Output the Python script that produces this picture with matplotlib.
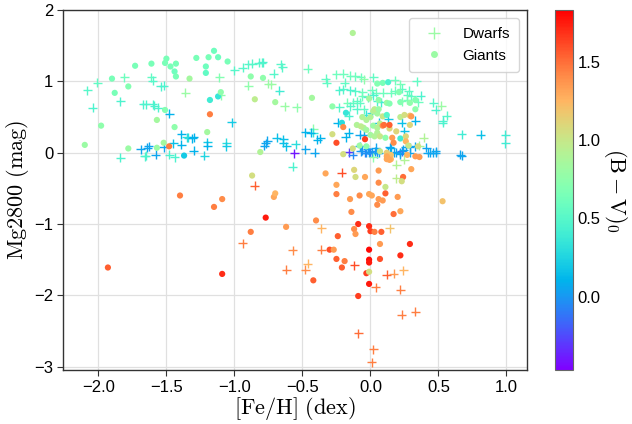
import numpy as np
import matplotlib
matplotlib.use("Agg")
import matplotlib.pyplot as plt
from matplotlib.lines import Line2D

# ---- Data: dwarfs ([Fe/H], Mg2800, (B-V)0) ----
dwarf_feh = [-2.08,-2.01,-2.04,-1.81,-1.84,-1.61,-1.60,-1.54,-1.52,-1.67,-1.65,-1.60,-1.59,-1.56,-1.48,-1.36,-1.11,-1.10,-1.00,-0.94,
             -0.90,-0.87,-0.82,-0.80,-0.79,-0.90,-0.75,-0.73,-0.71,-0.66,-0.65,-0.67,-0.63,-0.54,-0.46,-1.02,-1.39,-1.35,-1.34,-1.31,
             -1.30,-1.39,-1.45,-1.52,-1.63,-1.64,-1.69,-1.48,-1.44,-1.58,-1.66,-1.65,-1.84,-1.30,-1.22,-1.20,-1.20,-1.06,-1.06,-0.78,
             -0.77,-0.76,-0.69,-0.64,-0.64,-0.62,-0.55,-0.48,-0.48,-0.56,-0.57,
             -0.85,-0.94,-0.57,-0.62,-0.48,-0.46,-0.21,-0.36,0.14,-0.36,-0.12,0.12,0.17,0.24,0.04,0.22,0.23,0.33,-0.09,0.02,0.01,0.19,0.25,0.19,
             0.67,0.66,0.46,0.48,0.52,0.56,0.53,0.53,0.67,0.81,0.99,0.99,0.46,0.48,0.48,
             -0.42,-0.42,-0.44,-0.39,-0.37,-0.41,-0.33,-0.32,-0.25,-0.20,-0.15,-0.11,-0.07,-0.05,0.02,0.18,0.22,0.34,-0.19,-0.20,
             -0.23,-0.15,-0.11,-0.06,-0.06,0.01,0.04,0.09,0.15,0.18,0.23,0.28,0.27,0.37,0.30,-0.02,0.02,-0.10,0.05,0.08,
             0.23,0.27,0.35,-0.23,-0.17,-0.13,-0.08,-0.15,-0.10,-0.16,-0.05,-0.03,0.01,0.13,0.06,0.33,0.23,0.25,-0.24,-0.16,
             -0.18,-0.08,-0.05,0.39,0.36,
             -0.16,-0.13,-0.08,-0.07,-0.06,-0.04,-0.03,-0.01,0.00,0.01,-0.02,0.03,0.04,0.05,0.06,0.02,0.13,0.15,0.14,0.17,
             0.19,0.22,0.22,0.23,0.24,0.26,0.29,0.29,0.33,0.41,0.42,0.44]
dwarf_mg = [0.88,0.98,0.63,1.06,0.72,1.06,1.01,0.93,0.94,0.68,0.68,0.68,0.66,0.63,0.55,0.84,1.06,0.81,1.16,1.19,
            1.24,1.25,1.26,1.26,1.27,0.94,0.97,0.96,1.11,1.24,1.20,0.87,0.65,0.64,1.18,0.43,0.26,0.22,0.21,0.20,
            0.22,0.11,0.13,0.08,0.09,0.07,0.05,-0.03,-0.06,-0.03,-0.05,-0.04,-0.07,0.03,-0.04,0.15,0.10,0.14,0.09,0.10,
            0.13,0.17,0.21,0.19,0.14,0.09,0.12,0.29,0.05,-0.01,-0.20,
            -0.46,-1.27,-1.37,-1.64,-1.64,-1.56,-0.28,-1.06,-1.06,-1.36,-1.58,-1.71,-1.70,-1.65,-1.89,-1.92,-2.27,-2.23,-2.53,-2.76,-2.94,-0.36,-0.10,-0.17,
            -0.04,-0.03,0.70,0.60,0.66,0.52,0.45,0.42,0.26,0.25,0.25,0.13,0.00,0.00,0.02,
            0.34,0.28,0.28,0.18,0.20,0.00,1.04,0.98,1.10,1.11,1.08,1.07,1.06,1.03,1.06,1.02,0.96,1.00,0.98,0.89,
            0.88,0.88,0.86,0.85,0.79,0.88,0.84,0.84,0.84,0.87,0.90,0.87,0.81,0.80,0.80,0.78,0.81,0.72,0.72,0.71,
            0.72,0.74,0.71,0.64,0.70,0.70,0.70,0.65,0.61,0.52,0.61,0.53,0.56,0.47,0.42,0.45,0.42,0.30,0.42,0.28,
            0.22,0.25,0.25,0.21,0.10,
            0.01,-0.03,0.09,0.02,0.03,0.00,0.00,0.01,0.00,0.00,0.05,0.02,0.07,-0.01,0.00,-0.06,0.00,0.07,0.08,0.00,
            0.01,0.00,-0.02,0.02,0.04,0.08,0.00,0.08,0.09,0.07,0.00,0.00]
dwarf_bv = [0.50,0.55,0.45,0.60,0.45,0.55,0.50,0.45,0.45,0.45,0.45,0.45,0.45,0.45,0.10,0.80,0.70,0.75,0.50,0.50,
            0.50,0.50,0.50,0.50,0.45,0.75,0.80,0.80,0.50,0.50,0.50,0.40,0.80,0.75,0.60,0.20,0.10,0.30,0.30,0.10,
            0.10,0.10,0.15,0.05,0.05,0.05,0.05,0.45,0.45,0.05,0.45,0.45,0.45,0.10,0.25,0.20,0.10,0.30,0.20,0.05,
            0.05,0.05,0.15,0.15,0.15,0.15,0.30,0.10,0.05,-0.40,0.45,
            1.55,1.45,1.40,1.45,1.40,1.25,1.60,1.25,1.20,1.45,1.60,1.55,1.35,1.25,1.45,1.45,1.45,1.45,1.50,1.45,1.45,0.95,0.90,0.90,
            0.05,0.05,0.50,0.45,0.80,0.50,0.45,0.45,0.40,0.15,0.40,0.40,0.05,0.05,0.05,
            0.75,0.35,0.10,0.10,0.10,0.05,0.55,0.55,0.60,0.60,0.60,0.60,0.60,0.75,0.55,0.60,0.65,0.55,0.55,0.50,
            0.45,0.45,0.50,0.60,0.60,0.60,0.60,0.60,0.60,0.60,0.55,0.55,0.55,0.45,0.55,0.45,0.45,0.55,0.45,0.40,
            0.65,0.65,0.60,0.50,0.65,0.55,0.55,0.50,0.50,0.45,0.55,0.35,0.30,0.20,0.15,0.10,0.15,0.15,0.10,0.10,
            0.10,0.05,0.05,0.90,0.85,
            -0.30,-0.05,0.00,0.00,0.00,-0.10,0.00,0.00,-0.10,0.00,0.00,0.00,0.05,0.00,0.05,0.75,0.10,0.10,0.05,0.05,
            0.05,0.05,0.05,-0.10,0.05,0.05,0.05,0.05,0.05,0.05,0.05,0.05]

# ---- Data: giants ----
giant_feh = [-1.73,-1.61,-1.51,-1.50,-1.47,-1.43,-1.44,-1.43,-1.28,-1.19,-1.15,-1.12,-1.21,-1.21,-1.05,-1.33,-1.90,-1.88,-1.78,-1.51,
             -1.57,-1.98,-1.44,-1.20,-2.10,-1.78,-1.57,-1.52,-1.48,-1.37,-1.18,-1.12,-1.10,-1.18,-0.88,-0.79,-0.85,-0.70,-0.81,-0.87,
             -1.40,-1.15,-1.09,-0.71,-0.70,-0.77,-0.88,-0.62,-1.93,-1.09,
             -0.33,-0.25,-0.25,-0.12,-0.11,-0.04,0.06,0.06,-0.15,-0.08,-0.01,0.01,0.06,0.09,0.05,0.11,0.11,0.20,0.24,0.23,
             0.30,0.22,0.17,-0.14,0.53,-0.40,-0.09,-0.01,-0.12,-0.11,0.00,0.03,0.08,0.07,0.29,-0.24,-0.30,-0.27,-0.01,-0.25,
             -0.19,-0.21,-0.01,-0.01,0.07,0.22,-0.03,-0.01,-0.01,-0.42,-0.09,0.33,0.36,
             -0.13,-0.43,0.05,0.09,0.13,0.21,-0.01,0.06,0.12,0.14,0.33,0.29,0.22,-0.28,-0.18,-0.06,0.02,0.05,0.03,0.06,
             0.09,0.12,0.33,0.22,0.25,0.29,0.30,-0.03,0.00,-0.21,-0.20,-0.28,-0.25,-0.10,-0.05,-0.07,-0.03,0.02,0.05,0.07,
             0.09,0.10,0.14,0.19,0.14,0.29,-0.04,0.00,0.03,0.05,0.07,0.11,0.16,0.17,0.22,0.26,0.35,0.26,0.28,-0.20,
             -0.13,-0.08,-0.03,0.07,0.12,0.15,0.12,0.15,0.27,0.12,0.14]
giant_mg = [1.22,1.25,1.26,1.32,1.21,1.25,1.14,1.07,1.33,1.34,1.43,1.34,1.21,1.12,1.28,1.04,1.04,0.84,0.93,0.60,
            0.46,0.38,0.36,0.29,0.11,0.06,0.07,0.14,0.09,-0.04,0.74,0.79,0.85,0.54,1.07,1.05,0.75,0.71,0.01,-0.32,
            -0.60,-0.76,-0.65,-0.62,-0.57,-0.91,-1.11,-1.04,-1.61,-1.70,
            -0.29,-0.45,-0.58,-0.24,-0.34,-0.34,-0.25,-0.42,-0.65,-0.60,-0.58,-0.60,-0.65,-0.67,-0.73,-0.57,-0.48,-0.62,-0.34,-0.40,
            -0.23,-0.82,-0.86,-0.83,-0.68,-0.95,-1.00,-1.03,-1.07,-1.14,-1.10,-1.11,-1.11,-1.28,-1.28,-1.17,-1.36,-1.36,-1.36,-1.49,
            -1.52,-1.61,-1.50,-1.54,-1.49,-1.44,-1.69,-1.67,-1.84,-1.79,-2.01,-0.05,-0.06,
            1.68,0.77,0.97,0.98,0.99,0.85,0.76,0.74,0.70,0.69,0.74,0.70,0.71,0.65,0.56,0.50,0.58,0.55,0.61,0.61,
            0.51,0.53,0.61,0.50,0.53,0.52,0.51,0.46,0.50,0.42,0.36,0.26,0.14,0.39,0.35,0.37,0.32,0.38,0.35,0.41,
            0.38,0.39,0.34,0.30,0.39,0.39,0.19,0.25,0.23,0.28,0.23,0.21,0.21,0.14,0.20,0.23,0.09,0.16,0.10,-0.02,
            0.06,0.10,0.09,0.02,0.00,-0.03,-0.09,-0.09,-0.03,-0.05,-0.10]
giant_bv = [0.65,0.65,0.65,0.65,0.65,0.65,0.60,0.65,0.65,0.65,0.60,0.60,0.60,0.55,0.65,0.85,0.65,0.65,0.70,0.70,
            0.85,0.75,0.75,0.85,0.80,0.80,0.80,0.85,1.45,0.20,0.40,0.35,0.75,1.45,0.75,0.75,0.95,0.85,0.90,1.05,
            1.45,1.45,1.40,1.30,1.25,1.75,1.45,1.35,1.55,1.70,
            1.30,1.30,1.45,1.10,1.05,1.30,1.35,1.40,1.35,1.40,1.30,1.30,1.35,1.35,1.40,1.55,1.00,1.35,1.50,1.05,
            1.30,1.30,1.50,1.40,1.20,1.40,1.70,1.70,1.40,1.35,1.65,1.45,1.55,1.35,1.70,1.55,1.60,1.35,1.80,1.55,
            1.45,1.55,1.80,1.75,1.60,1.70,1.65,1.05,1.75,1.55,1.65,1.35,1.35,
            0.90,0.85,0.70,0.65,0.45,0.70,0.85,0.75,0.80,0.70,0.70,0.75,0.70,0.75,0.35,0.90,0.90,0.85,0.95,0.80,
            1.00,0.50,0.75,0.95,1.05,1.15,1.35,0.90,0.90,0.30,1.40,1.05,1.60,0.90,0.90,0.95,0.85,0.80,0.90,0.95,
            1.40,1.50,1.10,1.10,1.55,1.10,1.65,0.85,0.90,0.90,1.00,0.75,1.35,1.40,0.40,1.10,1.05,1.25,1.00,1.05,
            1.05,0.80,0.75,1.00,1.15,1.20,1.30,1.25,1.25,1.30,1.30]

xticks = [-2.0, -1.5, -1.0, -0.5, 0.0, 0.5, 1.0]
yticks = [-3, -2, -1, 0, 1, 2]
cticks = [0.0, 0.5, 1.0, 1.5]

plt.rcParams['mathtext.fontset'] = 'cm'
plt.rcParams['font.family'] = ['Liberation Sans', 'DejaVu Sans']

fig = plt.figure(figsize=(6.32, 4.24), dpi=100)
ax = fig.add_axes([0.0997, 0.127, 0.734, 0.849])
cax = fig.add_axes([0.878, 0.127, 0.0285, 0.849])

vmin, vmax = -0.47, 1.83
cmap = plt.get_cmap('rainbow')

sc = ax.scatter(dwarf_feh, dwarf_mg, c=dwarf_bv, cmap=cmap, vmin=vmin, vmax=vmax,
                marker='+', s=42, linewidths=1.0, zorder=3)
ax.scatter(giant_feh, giant_mg, c=giant_bv, cmap=cmap, vmin=vmin, vmax=vmax,
           marker='o', s=20, linewidths=0, zorder=3)

ax.set_xlim(-2.26, 1.15)
ax.set_ylim(-3.05, 2.0)
ax.set_xticks(xticks)
ax.set_yticks(yticks)
ax.set_xticklabels([f"{t:.1f}".replace('-', '\u2212') for t in xticks])
ax.set_yticklabels([f"{t}".replace('-', '\u2212') for t in yticks])
ax.tick_params(labelsize=12, length=4, color='0.2', direction='out', pad=3)
ax.grid(True, color='0.88', linewidth=0.9, zorder=0)
ax.set_axisbelow(True)
for sp in ax.spines.values():
    sp.set_color('0.2')
    sp.set_linewidth(1.0)

ax.set_xlabel(r'$\mathrm{[Fe/H]\ (dex)}$', fontsize=16, labelpad=0)
ax.set_ylabel(r'$\mathrm{Mg2800\ (mag)}$', fontsize=16, labelpad=2)

legc = cmap((0.8 - vmin) / (vmax - vmin))
handles = [Line2D([], [], marker='+', linestyle='none', color=legc, markersize=8, markeredgewidth=1.0),
           Line2D([], [], marker='o', linestyle='none', color=legc, markeredgewidth=0, markersize=5)]
ax.legend(handles, ['Dwarfs', 'Giants'], loc='upper right', fontsize=11, frameon=True,
          framealpha=0.8, edgecolor='0.8', handletextpad=0.9, borderpad=0.6)

cb = fig.colorbar(sc, cax=cax)
cb.set_ticks(cticks)
cb.set_ticklabels([f"{t:.1f}" for t in cticks])
cb.ax.tick_params(labelsize=12, length=0)
cb.outline.set_edgecolor('0.4')
cb.set_label(r'$(\mathrm{B-V})_0$', fontsize=16, rotation=270, labelpad=20)

fig.savefig('out.png', dpi=100)
